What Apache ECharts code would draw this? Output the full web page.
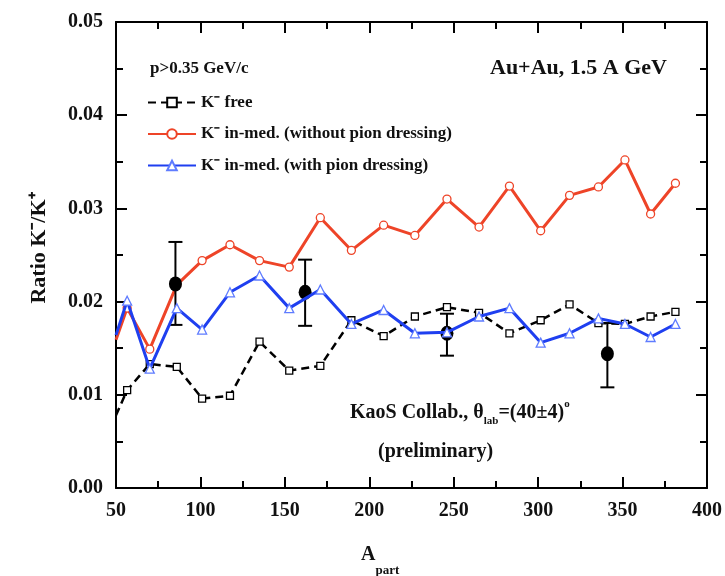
<!DOCTYPE html>
<html>
<head>
<meta charset="utf-8">
<script src="https://cdn.jsdelivr.net/npm/echarts@6/dist/echarts.min.js"></script>
<style>
  html, body { margin: 0; padding: 0; background: #fff; }
  #chart { width: 725px; height: 576px; }
</style>
</head>
<body>
<div id="chart"></div>
<script>
// A_part values of the model points
const aPart = [50, 56.6, 70, 86, 101, 117.5, 135, 152.6, 171, 189.4, 208.5, 227, 246, 265, 283, 301.5, 318.6, 335.7, 351.4, 366.6, 381.3];
const kFree = [0.0078, 0.0105, 0.0133, 0.0130, 0.0096, 0.0099, 0.0157, 0.0126, 0.0131, 0.0180, 0.0163, 0.0184, 0.0194, 0.0188, 0.0166, 0.0180, 0.0197, 0.0177, 0.0176, 0.0184, 0.0189];
const kNoPion = [0.0159, 0.0193, 0.0149, 0.0218, 0.0244, 0.0261, 0.0244, 0.0237, 0.0290, 0.0255, 0.0282, 0.0271, 0.0310, 0.0280, 0.0324, 0.0276, 0.0314, 0.0323, 0.0352, 0.0294, 0.0327];
const kPion = [0.0164, 0.0201, 0.0128, 0.0193, 0.0170, 0.0210, 0.0228, 0.0193, 0.0213, 0.0176, 0.0191, 0.0166, 0.0167, 0.0184, 0.0193, 0.0156, 0.0166, 0.0182, 0.0176, 0.0162, 0.0176];

// KaoS data with error bars
const expX = [85.2, 162, 246, 341];
const expY = [0.0219, 0.0210, 0.0166, 0.0144];
const expLo = [0.0175, 0.0174, 0.0142, 0.0108];
const expHi = [0.0264, 0.0245, 0.0187, 0.0177];

const seriesNames = ['K- free', 'K- in-med. (without pion dressing)', 'K- in-med. (with pion dressing)'];

const serif = '"Liberation Serif", "Times New Roman", serif';

function pairs(ys) {
  return aPart.map((x, i) => i === 0 ? { value: [x, ys[i]], symbol: 'none' } : [x, ys[i]]);
}

const chart = echarts.init(document.getElementById('chart'));

const tickStyle = { color: '#000', width: 2 };
const axisBase = {
  axisLine: { show: true, onZero: false, lineStyle: { color: '#000', width: 2 } },
  axisTick: { show: true, inside: true, length: 11, lineStyle: tickStyle },
  minorTick: { show: true, splitNumber: 2, length: 7, lineStyle: tickStyle },
  splitLine: { show: false }
};
const labelStyle = { color: '#111', fontFamily: serif, fontWeight: 'bold', fontSize: 20 };

chart.setOption({
  animation: false,
  backgroundColor: '#fff',
  grid: { left: 116, right: 17, top: 22, bottom: 88 },
  xAxis: [
    Object.assign({
      type: 'value', min: 50, max: 400, interval: 50, position: 'bottom',
      axisLabel: Object.assign({ margin: 13 }, labelStyle)
    }, axisBase),
    Object.assign({
      type: 'value', min: 50, max: 400, interval: 50, position: 'top',
      axisLabel: { show: false }
    }, axisBase)
  ],
  yAxis: [
    Object.assign({
      type: 'value', min: 0, max: 0.05, interval: 0.01, position: 'left',
      axisLabel: Object.assign({ margin: 13, formatter: v => v.toFixed(2) }, labelStyle)
    }, axisBase),
    Object.assign({
      type: 'value', min: 0, max: 0.05, interval: 0.01, position: 'right',
      axisLabel: { show: false }
    }, axisBase)
  ],
  legend: {
    orient: 'vertical',
    left: 142,
    top: 89,
    itemWidth: 48,
    itemHeight: 12,
    itemGap: 14.5,
    data: seriesNames,
    formatter: name => 'K\u207B' + name.slice(2),
    textStyle: { color: '#111', fontFamily: serif, fontWeight: 'bold', fontSize: 17 }
  },
  graphic: [
    {
      type: 'text', left: 150, top: 60,
      style: { text: 'p>0.35 GeV/c', fill: '#111', font: 'bold 17px ' + serif }
    },
    {
      type: 'text', left: 490, top: 57,
      style: { text: 'Au+Au, 1.5 A GeV', fill: '#111', font: 'bold 22px ' + serif }
    },
    {
      type: 'text', left: 350, top: 399,
      style: {
        text: '{m|KaoS Collab., \u03B8}{s|lab}{m|=(40\u00B14)}{o|o}',
        rich: {
          m: { fill: '#111', fontFamily: serif, fontWeight: 'bold', fontSize: 20, lineHeight: 28, verticalAlign: 'middle' },
          s: { fill: '#111', fontFamily: serif, fontWeight: 'bold', fontSize: 11, lineHeight: 28, verticalAlign: 'bottom' },
          o: { fill: '#111', fontFamily: serif, fontWeight: 'bold', fontSize: 11, lineHeight: 28, verticalAlign: 'top' }
        }
      }
    },
    {
      type: 'text', left: 378, top: 442,
      style: { text: '(preliminary)', fill: '#111', font: 'bold 20px ' + serif }
    },
    {
      type: 'text', x: 39, y: 248, rotation: Math.PI / 2,
      style: {
        text: 'Ratio K\u207B/K\u207A', fill: '#111', font: 'bold 22px ' + serif,
        align: 'center', verticalAlign: 'middle'
      }
    },
    {
      type: 'text', left: 361, top: 545,
      style: {
        text: '{m|A}{s|part}',
        rich: {
          m: { fill: '#111', fontFamily: serif, fontWeight: 'bold', fontSize: 20, lineHeight: 32, verticalAlign: 'top' },
          s: { fill: '#111', fontFamily: serif, fontWeight: 'bold', fontSize: 13, lineHeight: 32, verticalAlign: 'bottom' }
        }
      }
    }
  ],
  series: [
    {
      name: seriesNames[0],
      type: 'line',
      data: pairs(kFree),
      symbol: 'rect',
      symbolSize: 7,
      clip: true,
      z: 3,
      lineStyle: { color: '#000', width: 2.5, type: [8, 5] },
      itemStyle: { color: '#fff', borderColor: '#000', borderWidth: 1.3 }
    },
    {
      name: seriesNames[1],
      type: 'line',
      data: pairs(kNoPion),
      symbol: 'circle',
      symbolSize: 8,
      clip: true,
      z: 4,
      lineStyle: { color: '#ee4428', width: 3 },
      itemStyle: { color: '#fff', borderColor: '#ee4428', borderWidth: 1.3 }
    },
    {
      type: 'custom',
      name: 'KaoS',
      data: expX.map((x, i) => [x, expLo[i], expHi[i]]),
      z: 5,
      renderItem: function (params, api) {
        const lo = api.coord([api.value(0), api.value(1)]);
        const hi = api.coord([api.value(0), api.value(2)]);
        const st = { stroke: '#000', lineWidth: 2 };
        return {
          type: 'group',
          children: [
            { type: 'line', shape: { x1: lo[0], y1: lo[1], x2: hi[0], y2: hi[1] }, style: st },
            { type: 'line', shape: { x1: lo[0] - 7, y1: lo[1], x2: lo[0] + 7, y2: lo[1] }, style: st },
            { type: 'line', shape: { x1: hi[0] - 7, y1: hi[1], x2: hi[0] + 7, y2: hi[1] }, style: st }
          ]
        };
      }
    },
    {
      type: 'scatter',
      name: 'KaoS points',
      data: expX.map((x, i) => [x, expY[i]]),
      symbol: 'circle',
      symbolSize: [13, 15],
      z: 6,
      itemStyle: { color: '#000', opacity: 1 }
    },
    {
      name: seriesNames[2],
      type: 'line',
      data: pairs(kPion),
      symbol: 'triangle',
      symbolSize: 9,
      clip: true,
      z: 7,
      lineStyle: { color: '#1f3ff0', width: 3 },
      itemStyle: { color: '#fff', borderColor: '#5f7cff', borderWidth: 1.3 }
    }
  ]
});
</script>
</body>
</html>
